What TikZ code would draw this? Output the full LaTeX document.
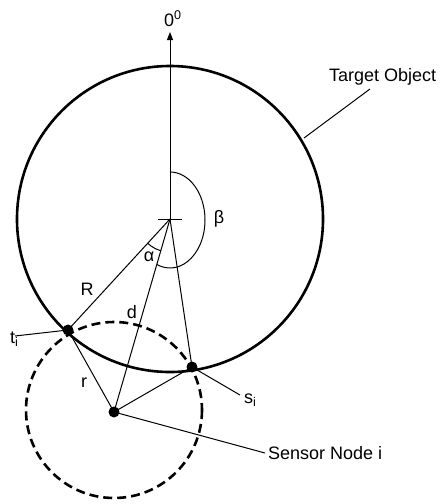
\documentclass[tikz,border=0pt]{standalone}
\usepackage{fontspec}
\setmainfont{Liberation Sans}
\usetikzlibrary{arrows.meta}
\begin{document}
\begin{tikzpicture}[x=1pt,y=-1pt,
  thinline/.style={line width=1pt},
  thickline/.style={line width=2.6pt},
  lbl/.style={font=\fontsize{18}{20}\selectfont, inner sep=0pt},
  dot/.style={circle,fill=black,inner sep=0pt,minimum size=11pt}]
\useasboundingbox (0,0) rectangle (445,504);
% key points
\coordinate (O) at (170,219);
\coordinate (top) at (170,32);
\coordinate (Nc) at (114,410);
\coordinate (chL) at (158,219);
\coordinate (chR) at (182,219);
\coordinate (tEnd) at (15,336);
\coordinate (sEnd) at (240,395);
\coordinate (nEnd) at (265,453);
\coordinate (oStart) at (304,138);
\coordinate (oEnd) at (370,89);
% circles
\draw[thickline] (O) circle[radius=153];
\draw[thickline, dash pattern=on 9pt off 5pt] (Nc) circle[radius=88];
% dots
\node[dot] (T) at (68,330) {};
\node[dot] (S) at (192,367) {};
\node[dot] (N) at (114,412) {};
% axis and crosshair
\draw[thinline,-{Triangle[length=8pt,width=6pt]}] (O) -- (top);
\draw[thinline] (chL) -- (chR);
% triangle lines
\draw[thinline] (O) -- (T.center);
\draw[thinline] (O) -- (N.center);
\draw[thinline] (O) -- (S.center);
\draw[thinline] (N.center) -- (T.center);
\draw[thinline] (N.center) -- (S.center);
% angle arcs
\draw[thinline] (O) ++(0,-47) arc[start angle=-90, end angle=112, x radius=35, y radius=48];
\draw[thinline] (O) ++(132.6:33) arc[start angle=132.6, end angle=106.2, radius=33];
% leaders
\draw[thinline] (T.center) -- (tEnd);
\draw[thinline] (S.center) -- (sEnd);
\draw[thinline] (N.center) -- (nEnd);
\draw[thinline] (oStart) -- (oEnd);
% labels
\node[lbl, anchor=base west] (zero) at (164,26) {0\textsuperscript{0}};
\node[lbl, anchor=west] (tobj) at (329,77) {Target Object};
\node[lbl] (beta) at (219,219) {β};
\node[lbl] (alpha) at (149,257) {α};
\node[lbl] (Rl) at (87,289) {R};
\node[lbl] (dl) at (132,312) {d};
\node[lbl] (rl) at (84,383) {r};
\node[lbl, anchor=base west] (tl) at (10,343) {t\textsubscript{i}};
\node[lbl, anchor=base west] (sl) at (244,403) {s\textsubscript{i}};
\node[lbl, anchor=west] (nl) at (268,453) {Sensor Node i};
\end{tikzpicture}
\end{document}
